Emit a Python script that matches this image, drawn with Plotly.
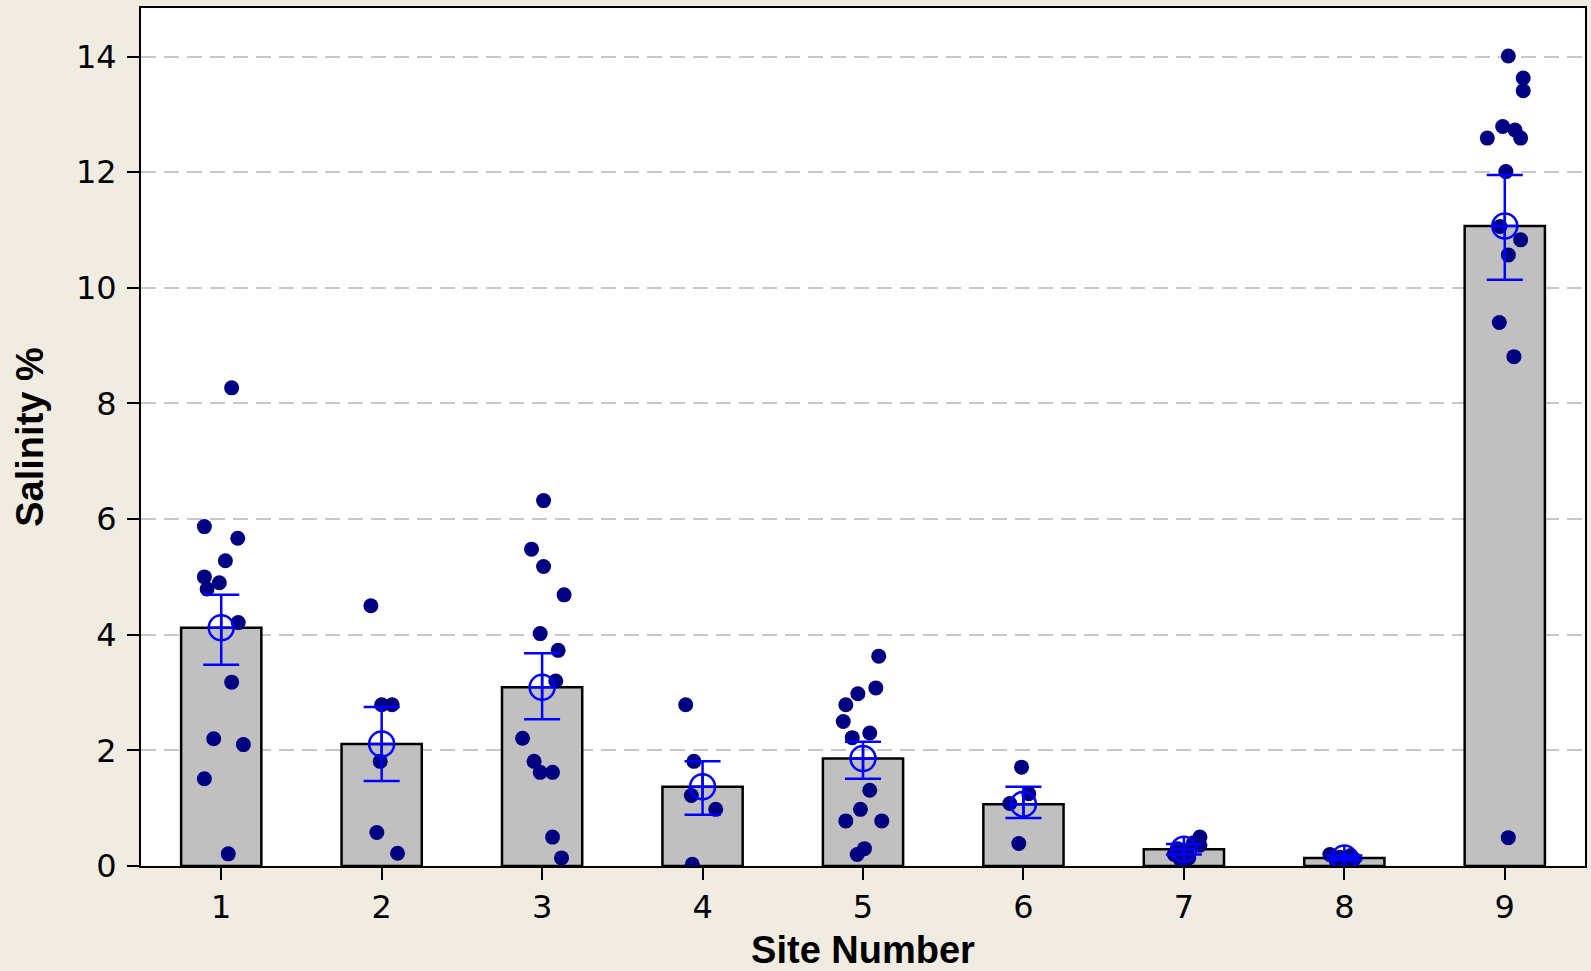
import plotly.graph_objects as go

# ---- data ----
sites = [1, 2, 3, 4, 5, 6, 7, 8, 9]
bar_means = [4.12, 2.11, 3.09, 1.37, 1.86, 1.07, 0.29, 0.14, 11.07]
ci_upper = [4.69, 2.75, 3.68, 1.81, 2.15, 1.37, 0.38, 0.18, 11.95]
ci_lower = [3.48, 1.47, 2.54, 0.885, 1.51, 0.83, 0.20, 0.10, 10.14]

point_site = ([1] * 13 + [2] * 6 + [3] * 13 + [4] * 5 + [5] * 13 + [6] * 4
              + [7] * 8 + [8] * 6 + [9] * 14)
point_value = [
    8.27, 5.87, 5.67, 5.28, 5.00, 4.90, 4.79, 4.21, 3.18, 2.20, 2.10, 1.51, 0.21,
    4.50, 2.79, 2.79, 1.81, 0.58, 0.22,
    6.32, 5.48, 5.18, 4.69, 4.02, 3.73, 3.20, 2.21, 1.81, 1.62, 1.62, 0.50, 0.14,
    2.79, 1.81, 1.22, 0.98, 0.03,
    3.63, 3.08, 2.98, 2.79, 2.50, 2.30, 2.22, 1.31, 0.98, 0.78, 0.78, 0.30, 0.20,
    1.71, 1.25, 1.08, 0.39,
    0.50, 0.40, 0.36, 0.30, 0.26, 0.20, 0.14, 0.10,
    0.20, 0.18, 0.15, 0.12, 0.10, 0.08,
    14.01, 13.63, 13.41, 12.79, 12.73, 12.59, 12.59, 12.01, 11.06, 10.83, 10.57, 9.40, 8.81, 0.49,
]
point_jitter = [
    0.065, -0.105, 0.103, 0.026, -0.105, -0.012, -0.088, 0.106, 0.065, -0.047, 0.138, -0.105, 0.044,
    -0.067, 0.0, 0.065, -0.009, -0.030, 0.099,
    0.009, -0.066, 0.009, 0.137, -0.012, 0.100, 0.085, -0.122, -0.050, -0.012, 0.065, 0.065, 0.121,
    -0.105, -0.054, -0.070, 0.082, -0.064,
    0.098, 0.080, -0.032, -0.107, -0.123, 0.042, -0.067, 0.042, -0.016, -0.107, 0.117, 0.009, -0.036,
    -0.012, 0.033, -0.085, -0.029,
    0.100, 0.060, 0.100, -0.040, 0.020, -0.060, 0.030, -0.020,
    -0.090, 0.040, -0.030, 0.060, 0.000, -0.050,
    0.022, 0.115, 0.115, -0.013, 0.064, -0.109, 0.099, 0.007, -0.030, 0.099, 0.022, -0.034, 0.057, 0.022,
]
x_ticks = [1, 2, 3, 4, 5, 6, 7, 8, 9]
y_ticks = [0, 2, 4, 6, 8, 10, 12, 14]

# ---- figure ----
fig = go.Figure()

fig.add_trace(go.Bar(
    x=sites, y=bar_means, width=0.5,
    marker=dict(color="#C0C0C0", line=dict(color="black", width=2.5)),
    hoverinfo="skip",
))

fig.add_trace(go.Scatter(
    x=[s + j for s, j in zip(point_site, point_jitter)], y=point_value,
    mode="markers",
    marker=dict(color="#000080", size=15, line=dict(width=0)),
))

fig.add_trace(go.Scatter(
    x=sites, y=bar_means, mode="markers",
    marker=dict(symbol="circle-cross-open", color="#0000FF", size=25,
                line=dict(color="#0000FF", width=2.5)),
    error_y=dict(type="data", symmetric=False,
                 array=[u - m for u, m in zip(ci_upper, bar_means)],
                 arrayminus=[m - l for m, l in zip(bar_means, ci_lower)],
                 color="#0000FF", thickness=2.5, width=18),
))

tick_font = dict(family="DejaVu Sans, Verdana, sans-serif", size=32, color="black")
title_font = dict(family="Liberation Sans, Arial, sans-serif", size=38, color="black", weight="bold")

fig.update_layout(
    width=1591, height=971,
    margin=dict(l=141, r=6, t=8, b=105),
    paper_bgcolor="#F0ECE1", plot_bgcolor="white",
    showlegend=False,
    xaxis=dict(
        range=[0.5, 9.5], tickmode="array", tickvals=x_ticks,
        ticktext=[str(t) for t in x_ticks],
        showgrid=False, zeroline=False, automargin=False,
        showline=True, linecolor="black", linewidth=2, mirror=True,
        ticks="outside", ticklen=12, tickwidth=2, tickcolor="black",
        tickfont=tick_font,
        title=dict(text="Site Number", font=title_font, standoff=19),
    ),
    yaxis=dict(
        range=[0, 14.84], tickmode="array", tickvals=y_ticks,
        ticktext=[str(t) for t in y_ticks],
        showgrid=True, gridcolor="#C8C8C8", gridwidth=2, griddash="15px,8px",
        zeroline=False, automargin=False,
        showline=True, linecolor="black", linewidth=2, mirror=True,
        ticks="outside", ticklen=12, tickwidth=2, tickcolor="black",
        ticklabelstandoff=4,
        tickfont=tick_font,
        title=dict(text="Salinity %", font=title_font, standoff=21),
    ),
)

fig.write_html("out.html", config={"displayModeBar": False},
               post_script="document.body.style.margin='0';")
